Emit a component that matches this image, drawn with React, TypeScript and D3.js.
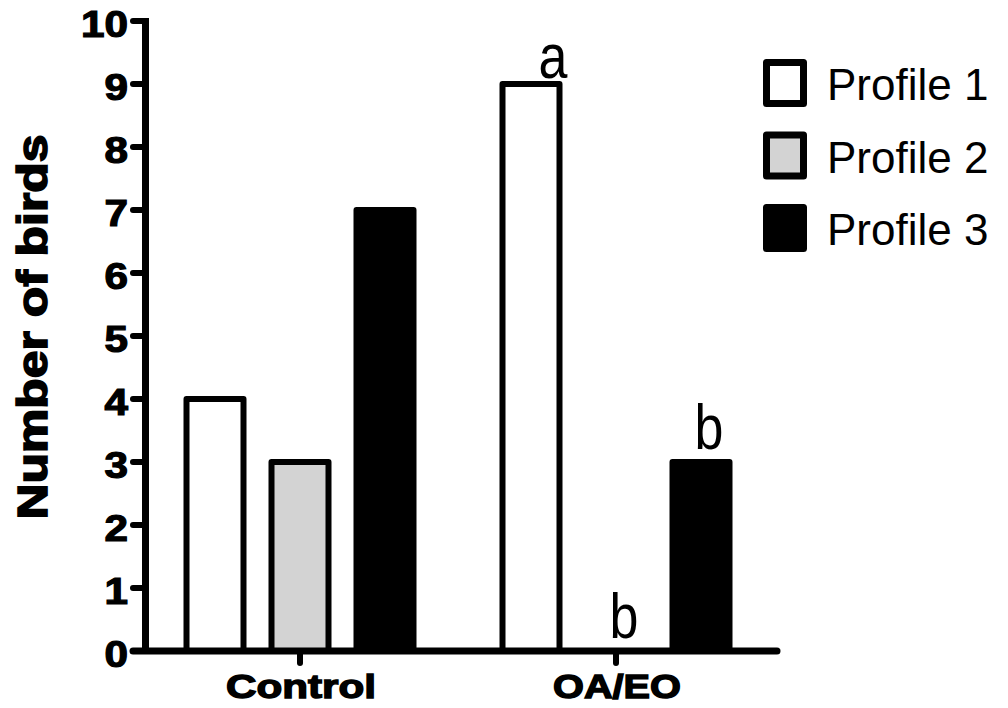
import React from "react";
import * as d3 from "d3";

// Groups, series and their counts
const groups = ["Control", "OA/EO"];
const profiles = ["Profile 1", "Profile 2", "Profile 3"];
const controlCounts = [4, 3, 7];
const oaeoCounts = [9, 0, 3];
const yTicks = [0, 1, 2, 3, 4, 5, 6, 7, 8, 9, 10];

// Significance letters over the OA/EO bars
const oaeoLetters = ["a", "b", "b"];

const fills = ["#ffffff", "#d3d3d3", "#000000"];

const W = 1008;
const H = 708;

export default function App() {
  const y = d3.scaleLinear().domain([0, 10]).range([651, 21]);
  const xGroup = d3.scaleBand<string>().domain(groups).range([142, 774]).padding(0);
  const xInner = d3.scaleBand<string>().domain(profiles).range([-127.5, 127.5]).padding(0);
  const barW = 57;
  const sw = 6;

  const rows = [
    { group: "Control", values: controlCounts, letters: ["", "", ""] },
    { group: "OA/EO", values: oaeoCounts, letters: oaeoLetters },
  ];

  const letterDx: Record<string, number> = { a: 22, b: 8 };
  const letterDy: Record<string, number> = { a: -6, b: -13 };

  const axisX = 145.5;
  const sans = "'Liberation Sans', Arial, sans-serif";

  return (
    <div style={{ position: "absolute", left: 0, top: 0 }}>
      <svg width={W} height={H} style={{ display: "block", background: "#fff" }}>
        <rect width={W} height={H} fill="#fff" />

        {/* bars */}
        {rows.map((r) => {
          const gc = (xGroup(r.group) ?? 0) + xGroup.bandwidth() / 2;
          return (
            <g key={r.group}>
              {r.values.map((v, i) => {
                const cx = gc + (xInner(profiles[i]) ?? 0) + xInner.bandwidth() / 2;
                const top = y(v);
                return (
                  <g key={profiles[i]}>
                    {v > 0 && (
                      <rect
                        x={cx - barW / 2}
                        y={top}
                        width={barW}
                        height={y(0) - top}
                        fill={fills[i]}
                        stroke="#000"
                        strokeWidth={sw}
                        strokeLinejoin="round"
                      />
                    )}
                    {r.letters[i] && (
                      <text
                        transform={`translate(${cx + letterDx[r.letters[i]]},${top + letterDy[r.letters[i]]}) scale(1,1.2)`}
                        textAnchor="middle"
                        fontFamily={sans}
                        fontSize={52}
                        fill="#000"
                      >
                        {r.letters[i]}
                      </text>
                    )}
                  </g>
                );
              })}
            </g>
          );
        })}

        {/* y axis */}
        <line x1={axisX} x2={axisX} y1={y(10) - 3} y2={y(0)} stroke="#000" strokeWidth={7} />
        {yTicks.map((t) => (
          <g key={t}>
            <line x1={133} x2={axisX} y1={y(t)} y2={y(t)} stroke="#000" strokeWidth={6} strokeLinecap="round" />
            <text
              x={128}
              y={y(t) + 16}
              textAnchor="end"
              fontFamily={sans}
              fontWeight="bold"
              fontSize={36}
              stroke="#000"
              strokeWidth={1.2}
              textLength={String(t).length * 23.5}
              lengthAdjust="spacingAndGlyphs"
            >
              {t}
            </text>
          </g>
        ))}

        {/* x axis */}
        <line x1={133} x2={777} y1={y(0)} y2={y(0)} stroke="#000" strokeWidth={7} strokeLinecap="round" />
        {groups.map((g) => {
          const gc = (xGroup(g) ?? 0) + xGroup.bandwidth() / 2;
          return (
            <g key={g}>
              <line x1={gc} x2={gc} y1={y(0)} y2={663} stroke="#000" strokeWidth={6} strokeLinecap="round" />
              <text
                x={gc + 1}
                y={698}
                textAnchor="middle"
                fontFamily={sans}
                fontWeight="bold"
                fontSize={34}
                stroke="#000"
                strokeWidth={1.4}
                textLength={g === "Control" ? 150 : 128}
                lengthAdjust="spacingAndGlyphs"
              >
                {g}
              </text>
            </g>
          );
        })}

        {/* y axis title */}
        <text
          transform="translate(47,327) rotate(-90)"
          textAnchor="middle"
          fontFamily={sans}
          fontWeight="bold"
          fontSize={42}
          stroke="#000"
          strokeWidth={1.6}
          textLength={385}
          lengthAdjust="spacingAndGlyphs"
        >
          Number of birds
        </text>

        {/* legend */}
        {profiles.map((p, i) => {
          const cy = 83 + i * 72.5;
          return (
            <g key={p}>
              <rect
                x={766.5}
                y={cy - 20.5}
                width={37}
                height={41}
                fill={fills[i]}
                stroke="#000"
                strokeWidth={7}
                strokeLinejoin="round"
              />
              <text x={827} y={cy + 17} fontFamily={sans} fontSize={44} fill="#000">
                {p}
              </text>
            </g>
          );
        })}
      </svg>
    </div>
  );
}
